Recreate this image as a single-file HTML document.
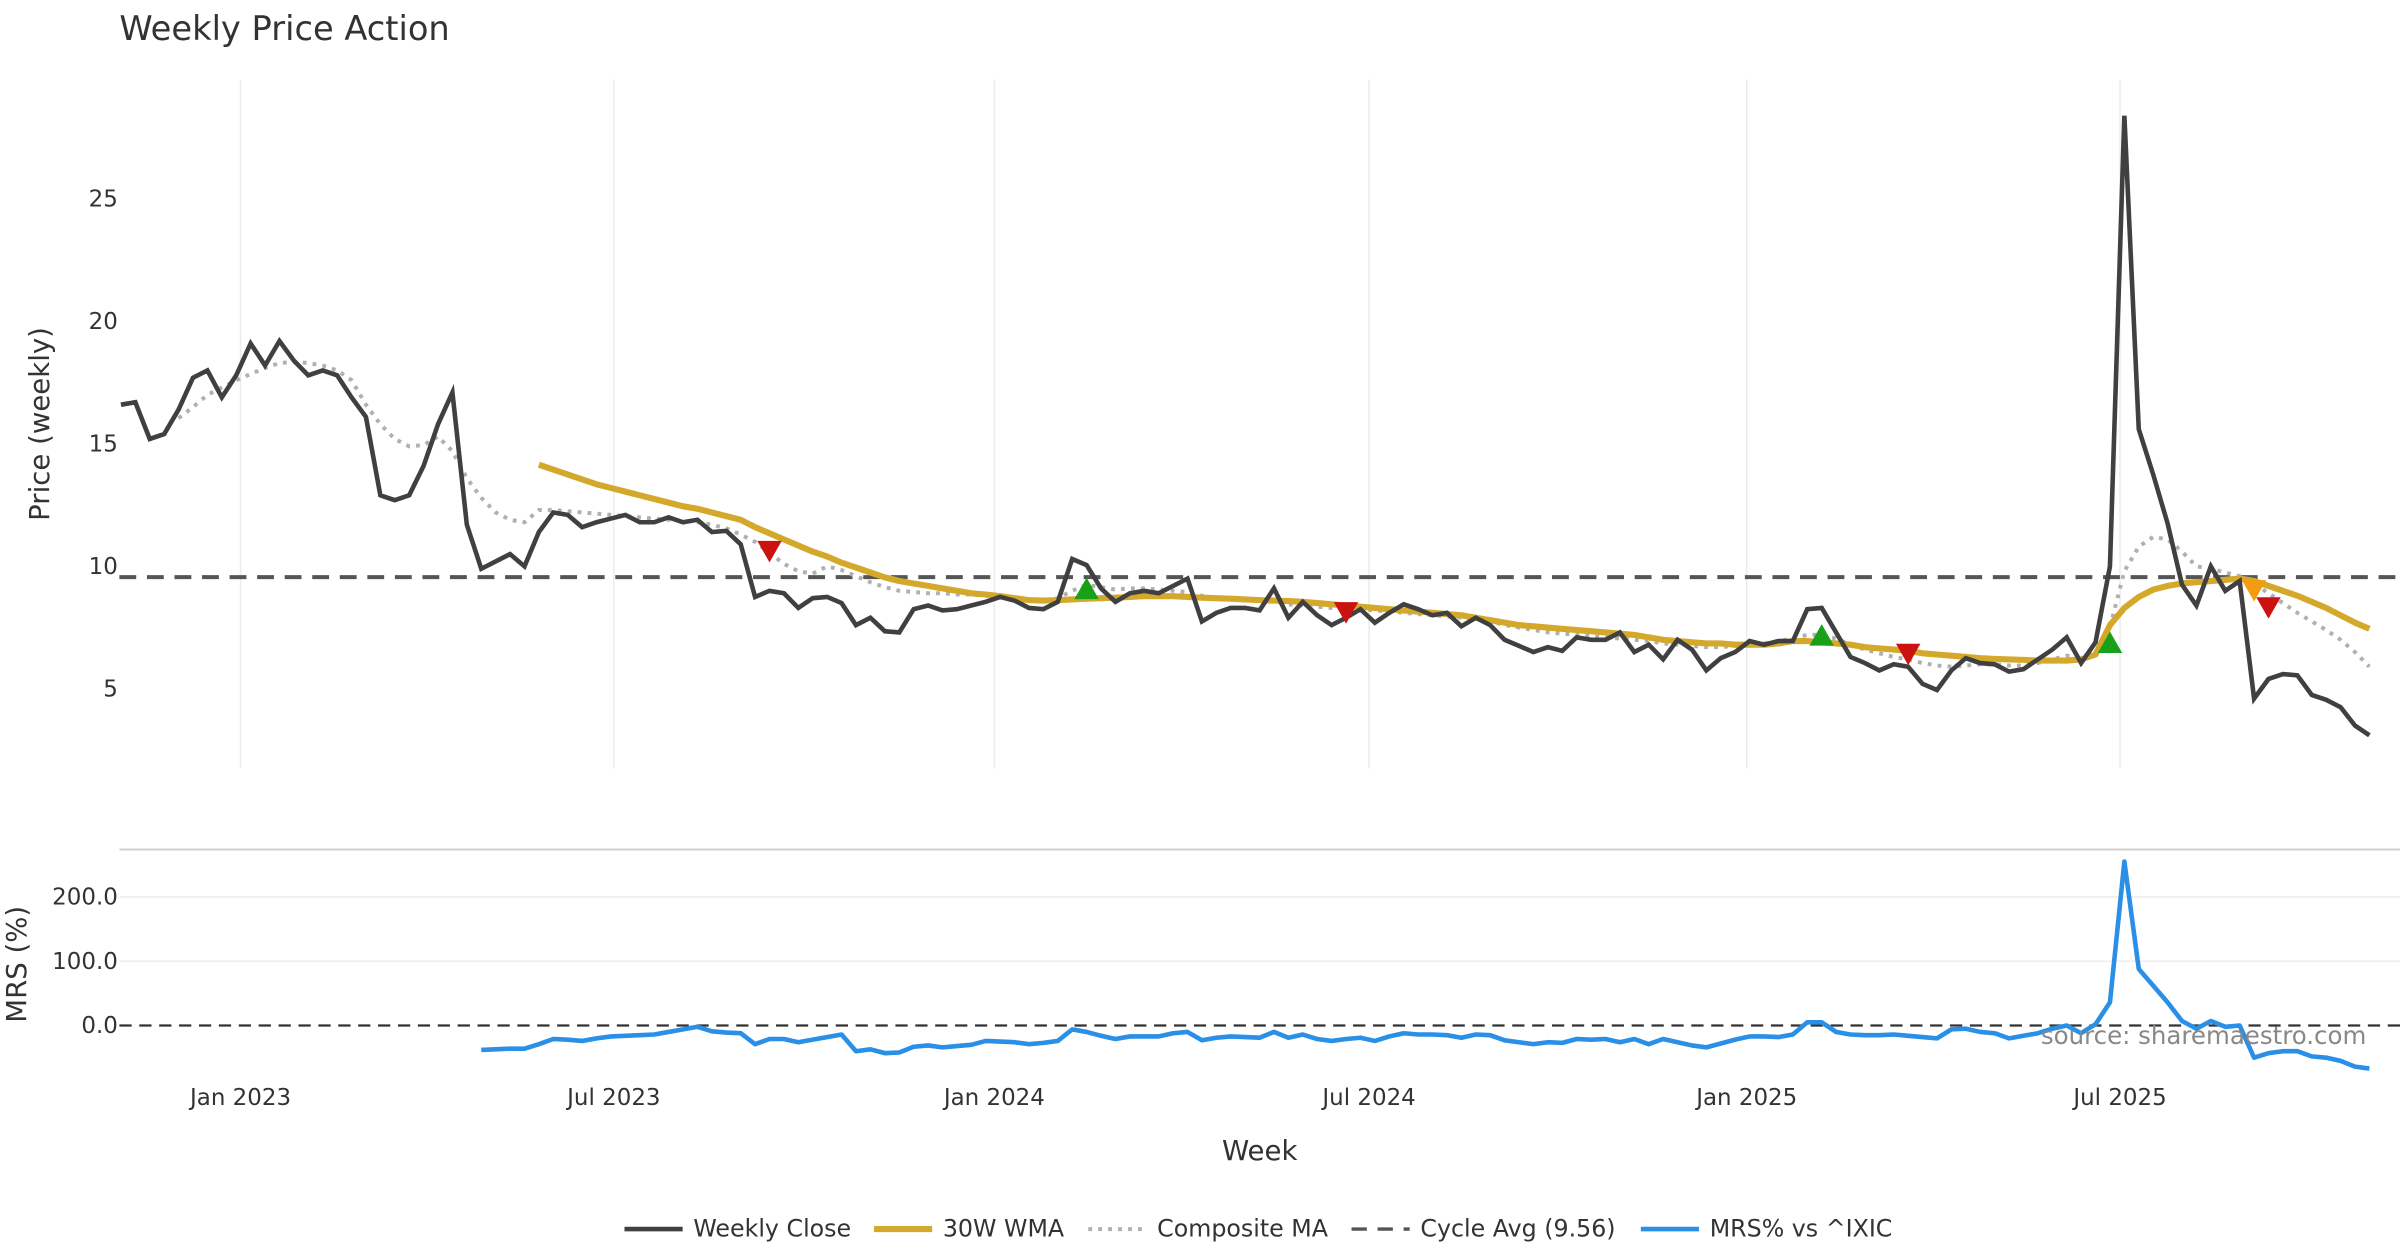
<!DOCTYPE html>
<html><head><meta charset="utf-8"><style>
html,body{margin:0;padding:0;background:#fff;}
svg{display:block;font-family:"DejaVu Sans","Liberation Sans",sans-serif;}
</style></head><body>
<svg id="chart" width="2400" height="1260" viewBox="0 0 1568 823.2" xmlns="http://www.w3.org/2000/svg">
<text x="78" y="26" font-size="22" fill="#333">Weekly Price Action</text>
<g id="grid"></g>
<g id="series"></g>
<text transform="translate(32,277) rotate(-90)" text-anchor="middle" font-size="18" fill="#333">Price (weekly)</text>
<text transform="translate(17,630) rotate(-90)" text-anchor="middle" font-size="18" fill="#333">MRS (%)</text>
<text x="823" y="758" text-anchor="middle" font-size="18" fill="#333">Week</text>
<text x="1546" y="682" text-anchor="end" font-size="16" fill="#888">source: sharemaestro.com</text>
<g id="legend"></g>
</svg>
<script>
const closeVals=[16.6,16.7,15.2,15.4,16.4,17.7,18.0,16.9,17.8,19.1,18.2,19.2,18.4,17.8,18.0,17.8,16.9,16.1,12.9,12.7,12.9,14.1,15.8,17.1,11.7,9.9,10.2,10.5,10.0,11.4,12.2,12.1,11.6,11.8,11.95,12.1,11.8,11.8,12.0,11.8,11.9,11.4,11.45,10.9,8.75,9.0,8.9,8.3,8.7,8.75,8.5,7.6,7.9,7.35,7.3,8.25,8.4,8.2,8.25,8.4,8.55,8.75,8.6,8.3,8.25,8.55,10.3,10.05,9.1,8.55,8.9,9.0,8.9,9.2,9.5,7.75,8.1,8.3,8.3,8.2,9.1,7.9,8.55,8.0,7.6,7.9,8.25,7.7,8.1,8.45,8.25,8.0,8.1,7.55,7.9,7.6,7.0,6.75,6.5,6.7,6.55,7.1,7.0,7.0,7.3,6.5,6.8,6.2,7.0,6.6,5.75,6.25,6.5,6.95,6.8,6.95,6.95,8.25,8.3,7.3,6.3,6.05,5.75,6.0,5.9,5.2,4.95,5.75,6.25,6.05,6.0,5.7,5.8,6.2,6.6,7.1,6.05,6.9,10.0,28.4,15.6,13.75,11.75,9.25,8.4,10.0,9.0,9.4,4.6,5.4,5.6,5.55,4.75,4.55,4.25,3.5,3.1];
const wmaStart=29;
const wmaVals=[14.15,13.95,13.75,13.55,13.35,13.2,13.05,12.9,12.75,12.6,12.45,12.35,12.2,12.05,11.9,11.6,11.35,11.1,10.85,10.6,10.4,10.15,9.95,9.75,9.55,9.4,9.3,9.2,9.1,9.0,8.9,8.85,8.78,8.7,8.62,8.6,8.62,8.65,8.68,8.7,8.72,8.75,8.78,8.78,8.78,8.75,8.72,8.7,8.68,8.65,8.62,8.6,8.58,8.55,8.5,8.45,8.4,8.35,8.3,8.25,8.2,8.15,8.1,8.05,8.0,7.9,7.8,7.7,7.6,7.55,7.5,7.45,7.4,7.35,7.3,7.25,7.2,7.1,7.0,6.95,6.9,6.85,6.85,6.8,6.8,6.8,6.85,6.95,6.95,6.9,6.85,6.8,6.7,6.65,6.6,6.55,6.45,6.4,6.35,6.3,6.25,6.22,6.2,6.18,6.15,6.15,6.15,6.2,6.4,7.6,8.3,8.75,9.05,9.2,9.3,9.35,9.4,9.45,9.5,9.4,9.2,9.0,8.8,8.55,8.3,8.0,7.7,7.45];
const compStart=4;
const compVals=[16.05,16.5,17.0,17.3,17.6,17.85,18.1,18.3,18.35,18.3,18.2,18.0,17.6,16.6,15.8,15.2,14.9,14.95,15.3,14.7,13.6,12.8,12.2,11.9,11.8,12.3,12.3,12.25,12.2,12.15,12.1,12.05,12.0,11.95,11.9,11.85,11.8,11.7,11.55,11.3,11.0,10.55,10.1,9.8,9.7,10.0,9.85,9.6,9.35,9.15,9.0,8.95,8.9,8.9,8.85,8.85,8.8,8.8,8.7,8.65,8.6,8.7,9.0,9.25,9.15,9.05,9.1,9.1,9.05,9.0,8.95,8.8,8.7,8.65,8.65,8.6,8.55,8.45,8.4,8.35,8.3,8.25,8.25,8.2,8.15,8.1,8.05,8.0,7.95,7.9,7.85,7.75,7.6,7.5,7.4,7.3,7.25,7.2,7.15,7.1,7.05,7.0,6.95,6.85,6.8,6.75,6.7,6.7,6.75,6.8,6.85,6.95,7.05,7.2,7.2,7.05,6.8,6.6,6.45,6.3,6.2,6.05,5.95,5.9,5.95,6.0,6.0,5.95,5.95,6.05,6.2,6.35,6.3,6.5,7.5,9.8,10.8,11.2,11.1,10.6,10.0,9.9,9.75,9.6,9.3,8.9,8.5,8.1,7.75,7.4,7.0,6.5,5.9];
const mrsStart=25;
const mrsVals=[-38,-37,-36,-36,-29,-21,-22,-24,-20,-17,-16,-15,-14,-10,-6,-2,-9,-11,-12,-29,-21,-21,-26,-22,-18,-14,-40,-37,-43,-42,-33,-31,-34,-32,-30,-24,-25,-26,-29,-27,-24,-6,-10,-16,-21,-17,-17,-17,-12,-10,-23,-19,-17,-18,-19,-10,-19,-14,-21,-24,-21,-19,-24,-17,-12,-14,-14,-15,-19,-14,-15,-23,-26,-29,-26,-27,-21,-22,-21,-26,-21,-29,-21,-26,-31,-34,-28,-22,-17,-17,-18,-14,5,5,-10,-14,-15,-15,-14,-16,-18,-20,-6,-5,-10,-12,-20,-16,-12,-5,0,-12,2,36,255,88,62,36,7,-5,7,-2,0,-50,-43,-40,-40,-48,-50,-55,-64,-67];
const cycleAvg=9.56;
const sellIdx=[45,85,124,149], sellVals=[10.6,8.1,6.4,8.3];
const buyIdx=[67,118,138], buyVals=[9.1,7.2,6.9];
const warnIdx=[148], warnVals=[9.0];
const priceTicks=[5,10,15,20,25];
const mrsTicks=[0,100,200];
const mrsTickLabels=["0.0","100.0","200.0"];
const dateTickIdx=[8.3,34.2,60.6,86.6,112.8,138.7];
const dateTickLabels=["Jan 2023","Jul 2023","Jan 2024","Jul 2024","Jan 2025","Jul 2025"];

const NS="http://www.w3.org/2000/svg";
const N=closeVals.length;
const X0=79,X1=1548;
function xS(i){return X0+(X1-X0)*i/(N-1);}
function yP(v){return 530-16*v;}
function yM(v){return 670-0.42*v;}
function mk(tag,attrs,parent){const e=document.createElementNS(NS,tag);for(const k in attrs)e.setAttribute(k,attrs[k]);parent.appendChild(e);return e;}
const grid=document.getElementById('grid'), ser=document.getElementById('series'), leg=document.getElementById('legend');

dateTickIdx.forEach((t,k)=>{
  const g=mk('line',{x1:xS(t),x2:xS(t),y1:52,y2:502,stroke:'#ececec','stroke-width':1},grid);
  
  
  const tx=mk('text',{x:xS(t),y:722,'text-anchor':'middle','font-size':15,fill:'#333'},grid);
  tx.textContent=dateTickLabels[k];
  
  
});
priceTicks.forEach(v=>{
  const tx=mk('text',{x:77,y:yP(v)+5,'text-anchor':'end','font-size':15,fill:'#333'},grid);
  tx.textContent=String(v);
  
  
});
const sep=mk('line',{x1:78,x2:1568,y1:555,y2:555,stroke:'#cfcfcf','stroke-width':1.3},grid);


mrsTicks.forEach((v,k)=>{
  if(v!==0){const l=mk('line',{x1:78,x2:1568,y1:yM(v),y2:yM(v),stroke:'#eeeeee','stroke-width':1},grid);
  
  }
  const tx=mk('text',{x:77,y:yM(v)+5,'text-anchor':'end','font-size':15,fill:'#333'},grid);
  tx.textContent=mrsTickLabels[k];
  
  
});

function path(vals,start,yf){return vals.map((v,j)=>(j?'L':'M')+xS(start+j).toFixed(2)+','+yf(v).toFixed(2)).join('');}

const cyc=mk('line',{x1:78,x2:1568,y1:yP(cycleAvg),y2:yP(cycleAvg),stroke:'#555','stroke-width':2.6,'stroke-dasharray':'11,7'},ser);


const comp=mk('path',{d:path(compVals,compStart,yP),fill:'none',stroke:'#b0b0b0','stroke-width':2.6,'stroke-dasharray':'2.5,4'},ser);


const wma=mk('path',{d:path(wmaVals,wmaStart,yP),fill:'none',stroke:'#d4a82a','stroke-width':4,'stroke-linejoin':'round'},ser);


const cl=mk('path',{d:path(closeVals,0,yP),fill:'none',stroke:'#404040','stroke-width':3,'stroke-linejoin':'miter'},ser);



function tri(i,v,down,color,name){
  const x=xS(i),y=yP(v),w=8,h=7;
  const pts=down?`${x-w},${y-h} ${x+w},${y-h} ${x},${y+h}`:`${x-w},${y+h} ${x+w},${y+h} ${x},${y-h}`;
  const p=mk('polygon',{points:pts,fill:color},ser);
  
  
}
sellIdx.forEach((i,k)=>tri(i,sellVals[k],true,'#cc1111','sell-marker'));
buyIdx.forEach((i,k)=>tri(i,buyVals[k],false,'#18a018','buy-marker'));
warnIdx.forEach((i,k)=>tri(i,warnVals[k],true,'#f39c12','warning-marker'));

const zl=mk('line',{x1:78,x2:1568,y1:yM(0),y2:yM(0),stroke:'#333','stroke-width':1.5,'stroke-dasharray':'8,5'},ser);


const mrs=mk('path',{d:path(mrsVals,mrsStart,yM),fill:'none',stroke:'#2a8fe6','stroke-width':3,'stroke-linejoin':'round'},ser);



const legendItems=[["Weekly Close",408,'#404040','',3],["30W WMA",571,'#d4a82a','',4],["Composite MA",711,'#b0b0b0','2.5,4',2.6],["Cycle Avg (9.56)",883,'#555','10,7',2.2],["MRS% vs ^IXIC",1072,'#2a8fe6','',3]];
legendItems.forEach(it=>{
  const g=mk('g',{},leg);
  
  
  const a={x1:it[1],x2:it[1]+38,y1:803,y2:803,stroke:it[2],'stroke-width':it[4]};
  if(it[3])a['stroke-dasharray']=it[3];
  mk('line',a,g);
  const t=mk('text',{x:it[1]+45,y:808,'font-size':15.5,fill:'#333'},g);
  t.textContent=it[0];
});
</script>
</body></html>
